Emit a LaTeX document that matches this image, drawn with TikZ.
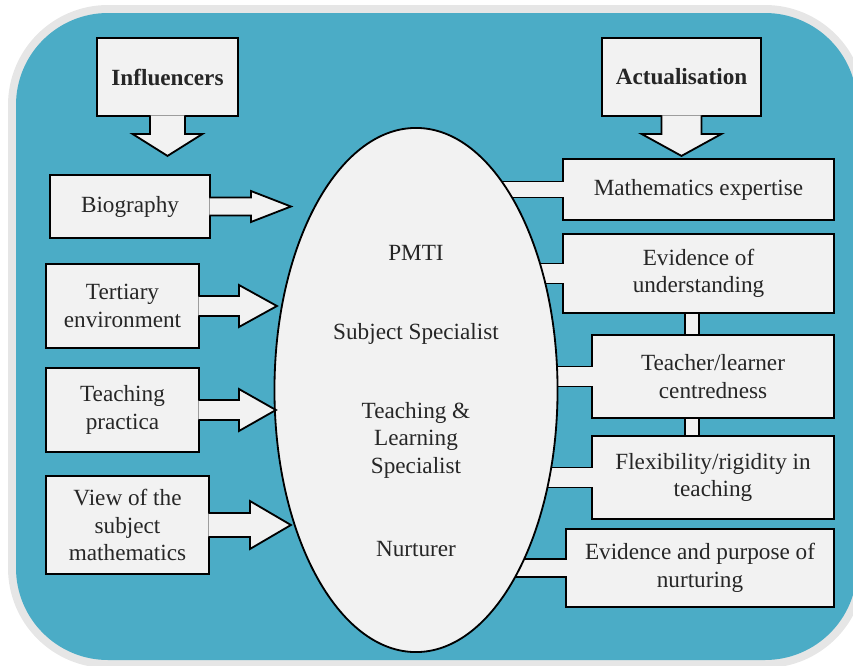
\documentclass[tikz,border=0pt]{standalone}
\usepackage{fontspec}
\setmainfont{Liberation Serif}
\usetikzlibrary{calc,shapes.geometric}
\definecolor{framegray}{HTML}{E6E6E6}
\definecolor{panelblue}{HTML}{4BACC6}
\definecolor{boxgray}{HTML}{F2F2F2}
\definecolor{inkgray}{HTML}{262626}
\tikzset{
	box/.style={draw, fill=boxgray, line width=1.3pt, text=inkgray, align=center, inner sep=0pt},
	blockarrow/.style={draw, fill=boxgray, line width=1.3pt, line join=miter},
	txt/.style={text=inkgray, align=center}
}

\begin{document}
\begin{tikzpicture}[x=0.025cm, y=-0.025cm, font=\fontsize{16.5pt}{19.5pt}\selectfont]
			%%%%% START %%%%%
			
			\useasboundingbox (0,0) rectangle (853,665);
			\begin{scope}
				\clip (0,0) rectangle (853,665);
				\fill[framegray, rounded corners=2.5cm] (8,5) rectangle (865,668);
				\fill[panelblue, rounded corners=2.3cm] (16,13) rectangle (857,660);
			\end{scope}
			
			\coordinate (lk) at (692,0);
			\draw[blockarrow] ($(lk |- 698,313)+(-7,-2)$) rectangle ($(lk |- 713,335)+(7,2)$);
			\draw[blockarrow] ($(lk |- 713,418)+(-7,-2)$) rectangle ($(lk |- 713,436)+(7,2)$);
			
			\node[box, minimum width=6.775cm, minimum height=1.525cm] (mexp) at (698.5,189.5) {Mathematics expertise};
			\node[box, minimum width=6.775cm, minimum height=1.975cm] (evid) at (698.5,273.5) {Evidence of\\understanding};
			\node[box, minimum width=6.05cm, minimum height=2.075cm] (tlc) at (713,376.5) {Teacher/learner\\centredness};
			\node[box, minimum width=6.05cm, minimum height=2.075cm] (flex) at (713,477.5) {Flexibility/rigidity in\\teaching};
			\node[box, minimum width=6.7cm, minimum height=1.95cm] (nurt) at (700,568) {Evidence and purpose of\\nurturing};
			
			\draw[blockarrow] (mexp.west) ++(1.5,-8) -- ++(-110,0) -- ++(0,16) -- ++(110,0);
			\draw[blockarrow] (evid.west) ++(1.5,-10) -- ++(-110,0) -- ++(0,20) -- ++(110,0);
			\draw[blockarrow] (tlc.west) ++(1.5,-10) -- ++(-110,0) -- ++(0,20) -- ++(110,0);
			\draw[blockarrow] (flex.west) ++(1.5,-10) -- ++(-110,0) -- ++(0,20) -- ++(110,0);
			\draw[blockarrow] (nurt.west) ++(1.5,-9) -- ++(-110,0) -- ++(0,18) -- ++(110,0);
			
			\node[ellipse, draw, fill=boxgray, line width=1.3pt, inner sep=0pt, minimum width=7.075cm, minimum height=13.1cm] (pmti) at (416,390) {};
			\node[txt] (pmtilbl) at (416,253) {PMTI};
			\node[txt] (subjlbl) at (416,334) {Subject Specialist};
			\node[txt] (tllbl) at (416,440) {Teaching \&\\Learning\\Specialist};
			\node[txt] (nurtlbl) at (416,549) {Nurturer};
			
			\node[box, minimum width=4cm, minimum height=1.575cm] (bio) at (130,206.5) {Biography};
			\node[box, minimum width=3.825cm, minimum height=2.1cm] (tert) at (122.5,306) {Tertiary\\environment};
			\node[box, minimum width=3.825cm, minimum height=2.1cm] (prac) at (122.5,410) {Teaching\\practica};
			\node[box, minimum width=4.075cm, minimum height=2.45cm] (view) at (127.5,525) {View of the\\subject\\mathematics};
			
			\draw[blockarrow] (bio.east) ++(-1.5,-9) -- ++(41.5,0) -- ++(0,-6.5) -- ++(40,15.5) -- ++(-40,15.5) -- ++(0,-6.5) -- ++(-41.5,0);
			\draw[blockarrow] (tert.east) ++(-1.5,-10) -- ++(40.5,0) -- ++(0,-11) -- ++(38,21) -- ++(-38,21) -- ++(0,-11) -- ++(-40.5,0);
			\draw[blockarrow] (prac.east) ++(-1.5,-10) -- ++(40.5,0) -- ++(0,-11) -- ++(37,21) -- ++(-37,21) -- ++(0,-11) -- ++(-40.5,0);
			\draw[blockarrow] (view.east) ++(-1.5,-12) -- ++(41.5,0) -- ++(0,-12) -- ++(41,24) -- ++(-41,24) -- ++(0,-12) -- ++(-41.5,0);
			
			\node[box, minimum width=3.525cm, minimum height=1.95cm] (infl) at (167.5,77) {\textbf{Influencers}};
			\node[box, minimum width=3.975cm, minimum height=1.95cm] (actu) at (681.5,77) {\textbf{Actualisation}};
			
			\draw[blockarrow] (infl.south) ++(-17.5,-1.5) -- ++(0,18.5) -- ++(-17.5,0) -- ++(35,22) -- ++(35,-22) -- ++(-17.5,0) -- ++(0,-18.5);
			\draw[blockarrow] (actu.south) ++(-20,-1.5) -- ++(0,18.5) -- ++(-20,0) -- ++(40,22) -- ++(40,-22) -- ++(-20,0) -- ++(0,-18.5);
			
			%%%%% END %%%%%
\end{tikzpicture}
\end{document}
